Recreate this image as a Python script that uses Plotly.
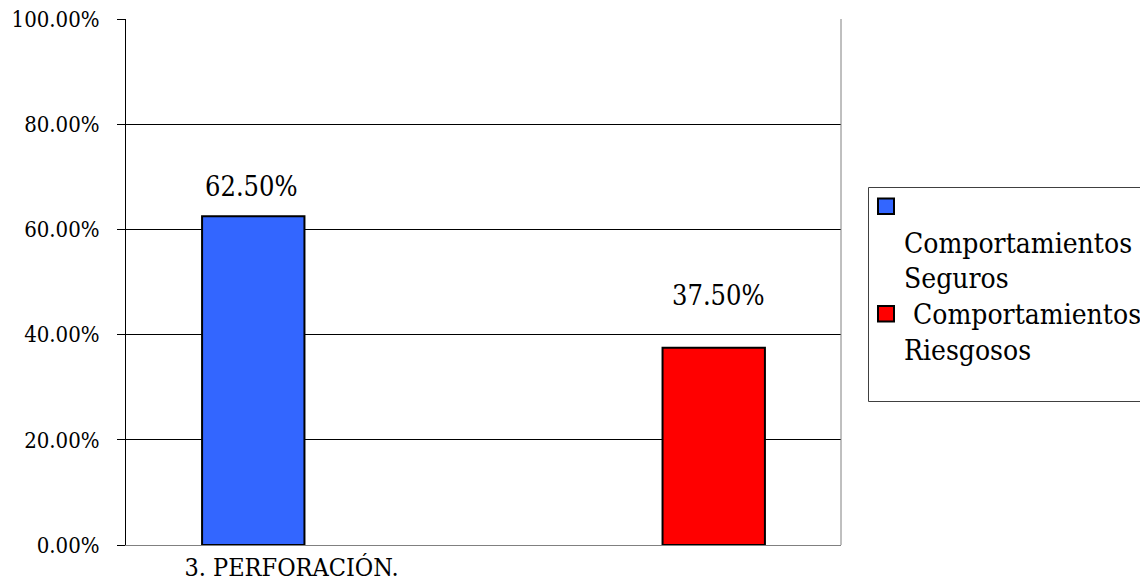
import plotly.graph_objects as go

# Chart data
categories = ["3. PERFORACIÓN."]
series_names = ["Comportamientos Seguros", "Comportamientos Riesgosos"]
seguros = [0.625]
riesgosos = [0.375]
y_ticks = [0.0, 0.2, 0.4, 0.6, 0.8, 1.0]

# Styling
W, H = 1140, 585
ML, MR, MT, MB = 126, 299, 19, 40
FONT = "DejaVu Serif Condensed"
BLUE = "#3366FF"
RED = "#FF0000"
BAR_W = 0.1432
BAR_POS = [-0.322, 0.322]          # bar centres within the category slot
LABEL_YSHIFT = [12, 35]
LABEL_XSHIFT = [-2, 5]

PLOT_W = W - ML - MR
PLOT_H = H - MT - MB


def px_x(px):
    return (px - ML) / PLOT_W


def px_y(py):
    return (H - MB - py) / PLOT_H


fig = go.Figure()
series = [seguros, riesgosos]
colors = [BLUE, RED]
for name, vals, col, pos in zip(series_names, series, colors, BAR_POS):
    fig.add_trace(go.Bar(
        x=categories, y=vals, name=name,
        marker=dict(color=col, line=dict(color="black", width=2)),
        width=BAR_W, offset=pos - BAR_W / 2,
        showlegend=False,
    ))

annotations = []
# value labels above each bar
for vals, pos, ys, xs in zip(series, BAR_POS, LABEL_YSHIFT, LABEL_XSHIFT):
    annotations.append(dict(
        x=pos, y=vals[0], xref="x", yref="y",
        text=f"{vals[0]:.2%}", showarrow=False,
        xanchor="center", yanchor="bottom", yshift=ys, xshift=xs,
        font=dict(family=FONT, size=27, color="black"),
    ))

# legend entries drawn as text lines beside coloured keys
LEG_FS = 28
legend_lines = [
    ("Comportamientos", 901.7, 252.7),
    ("Seguros", 901.7, 288.3),
    (" Comportamientos", 903.0, 324.0),
    ("Riesgosos", 901.7, 360.0),
]
for txt, lx, base in legend_lines:
    annotations.append(dict(
        x=px_x(lx), y=px_y(base - 0.34 * LEG_FS), xref="paper", yref="paper",
        text=txt.replace(" ", "&nbsp;"), showarrow=False,
        xanchor="left", yanchor="middle",
        font=dict(family=FONT, size=LEG_FS, color="black"),
    ))

shapes = [
    # right border of the plot area
    dict(type="line", xref="paper", yref="paper", x0=1, x1=1, y0=0, y1=1,
         line=dict(color="#808080", width=1)),
    # legend frame
    dict(type="rect", xref="paper", yref="paper",
         x0=px_x(868.5), x1=px_x(1160), y0=px_y(401.5), y1=px_y(187.5),
         line=dict(color="#404040", width=1), fillcolor="white", layer="below"),
    # legend keys
    dict(type="rect", xref="paper", yref="paper",
         x0=px_x(878), x1=px_x(894), y0=px_y(214), y1=px_y(198.5),
         line=dict(color="black", width=2), fillcolor=BLUE),
    dict(type="rect", xref="paper", yref="paper",
         x0=px_x(878), x1=px_x(894), y0=px_y(321.5), y1=px_y(306),
         line=dict(color="black", width=2), fillcolor=RED),
]

fig.update_layout(
    width=W, height=H,
    margin=dict(l=ML, r=MR, t=MT, b=MB, autoexpand=False),
    paper_bgcolor="white", plot_bgcolor="white",
    barmode="overlay",
    showlegend=False,
    font=dict(family=FONT, color="black"),
    annotations=annotations,
    shapes=shapes,
    xaxis=dict(
        type="category", range=[-0.5, 0.5],
        showline=True, linecolor="#808080", linewidth=1,
        showgrid=False, ticks="",
        tickfont=dict(family=FONT, size=25, color="black"),
        ticklabelshift=-192, ticklabelstandoff=0,
    ),
    yaxis=dict(
        range=[0, 1], tickvals=y_ticks, tickformat=".2%",
        showline=True, linecolor="black", linewidth=1,
        showgrid=True, gridcolor="black", gridwidth=1, zeroline=False,
        ticks="outside", ticklen=8, tickcolor="black", tickwidth=1,
        tickfont=dict(family=FONT, size=22, color="black"),
        ticklabelstandoff=13,
    ),
)

fig.write_html("out.html")
